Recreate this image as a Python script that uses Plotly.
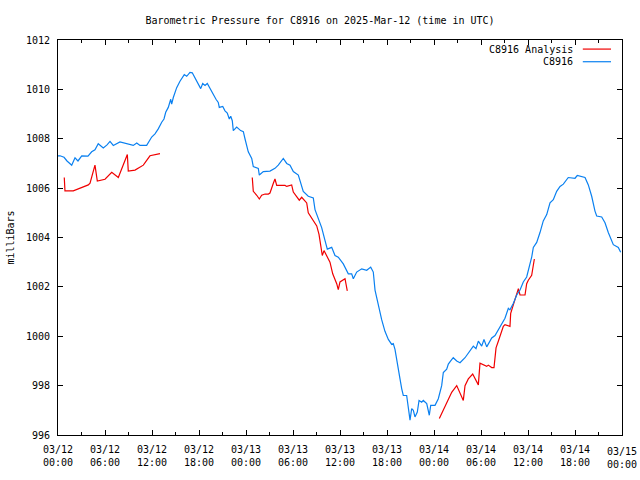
import datetime as dt
import plotly.graph_objects as go

BASE = dt.datetime(2025, 3, 12, 0, 0)

# C8916 observed pressure: hours after 2025-03-12 00:00 UTC, value in mb
obs_hours = [0.00, 0.26, 0.77, 1.15, 1.75, 2.17, 2.55, 3.03, 3.83, 4.30, 4.72, 5.14, 5.78, 6.26, 6.64,
             7.06, 7.91, 8.77, 9.61, 10.05, 10.47, 11.32, 11.96, 12.38, 12.80, 13.24, 13.53, 13.75,
             14.08, 14.39, 14.51, 14.72, 14.94, 15.15, 15.57, 15.79, 16.12, 16.43, 16.85, 17.14,
             17.49, 17.91, 18.22, 18.47, 18.77, 19.06, 19.40, 19.83, 20.17, 20.46, 20.59, 21.03,
             21.32, 21.61, 21.87, 22.05, 22.25, 22.38, 22.81, 23.32, 23.66, 23.87, 24.29, 24.73,
             24.93, 25.57, 25.70, 26.21, 27.06, 27.70, 28.12, 28.76, 29.20, 29.62, 30.04, 30.68,
             31.11, 31.31, 31.95, 32.59, 32.81, 33.23, 33.66, 34.09, 34.38, 34.94, 35.36, 35.78,
             36.42, 37.06, 37.49, 37.70, 38.13, 38.77, 39.41, 39.92, 40.25, 40.47, 40.89, 41.32,
             41.74, 42.17, 42.60, 42.80, 43.02, 43.24, 43.66, 43.88, 44.08, 44.51, 44.72, 44.94,
             45.15, 45.36, 45.57, 45.87, 46.09, 46.43, 46.63, 47.07, 47.40, 47.58, 48.13, 48.55,
             48.98, 49.19, 49.62, 49.83, 50.13, 50.46, 50.90, 51.32, 51.96, 52.38, 52.60, 53.02,
             53.36, 53.66, 54.09, 54.38, 54.73, 55.06, 55.37, 55.79, 56.21, 56.64, 57.06, 57.49,
             57.70, 58.12, 58.56, 58.98, 59.40, 59.83, 60.04, 60.47, 60.68, 61.11, 61.53, 61.95,
             62.39, 62.81, 63.23, 63.66, 64.09, 64.51, 65.14, 66.00, 66.29, 67.28, 67.70, 68.13,
             68.55, 68.77, 69.41, 69.83, 70.25, 70.47, 70.89, 71.53, 71.83]
obs_values = [1007.31, 1007.31, 1007.25, 1007.10, 1006.93, 1007.23, 1007.10, 1007.31, 1007.30, 1007.47,
              1007.55, 1007.80, 1007.63, 1007.75, 1007.89, 1007.73, 1007.87, 1007.80, 1007.73, 1007.83,
              1007.73, 1007.73, 1008.07, 1008.20, 1008.40, 1008.67, 1008.80, 1009.07, 1009.27, 1009.60,
              1009.40, 1009.67, 1009.93, 1010.07, 1010.33, 1010.44, 1010.60, 1010.53, 1010.69, 1010.67,
              1010.47, 1010.20, 1010.03, 1010.24, 1010.16, 1010.24, 1010.03, 1009.80, 1009.60, 1009.47,
              1009.27, 1009.31, 1009.13, 1009.04, 1008.80, 1008.91, 1008.73, 1008.33, 1008.47, 1008.33,
              1008.29, 1008.00, 1007.47, 1007.20, 1006.87, 1006.80, 1006.53, 1006.67, 1006.69, 1006.80,
              1006.93, 1007.20, 1007.00, 1006.93, 1006.67, 1006.53, 1006.13, 1005.87, 1005.67, 1005.60,
              1005.13, 1004.80, 1004.40, 1003.87, 1003.53, 1003.60, 1003.27, 1003.20, 1002.93, 1002.53,
              1002.53, 1002.33, 1002.60, 1002.73, 1002.67, 1002.80, 1002.60, 1001.87, 1001.20, 1000.67,
              1000.20, 999.87, 999.67, 999.70, 999.47, 999.00, 998.27, 997.87, 997.60, 997.60,
              997.07, 996.60, 997.07, 997.00, 996.73, 996.93, 997.40, 997.33, 997.40, 997.27,
              996.80, 997.20, 997.20, 997.47, 998.00, 998.53, 998.67, 998.87, 999.00, 999.13,
              999.00, 998.93, 999.13, 999.33, 999.40, 999.60, 999.50, 999.80, 999.60, 999.87,
              999.57, 999.73, 999.93, 1000.03, 1000.27, 1000.53, 1000.73, 1001.13, 1001.07, 1001.33,
              1001.67, 1001.87, 1002.20, 1002.40, 1002.67, 1003.20, 1003.60, 1003.80, 1004.20, 1004.67,
              1004.93, 1005.40, 1005.53, 1005.87, 1006.07, 1006.16, 1006.43, 1006.40, 1006.51, 1006.43,
              1006.13, 1005.67, 1005.07, 1004.87, 1004.83, 1004.60, 1004.20, 1004.00, 1003.71, 1003.60,
              1003.40]

# C8916 Analysis: three separate runs (None marks a gap)
ana_hours = [0.80, 0.89, 1.95, 2.81, 3.87, 4.09, 4.72, 5.02, 5.58, 6.00, 6.86, 7.70, 8.85, 8.97, 9.83,
             10.89, 11.74, 12.80, 13.02, None,
             24.80, 24.93, 25.37, 25.70, 26.00, 26.43, 26.85, 27.06, 27.49, 27.70, 27.92, 28.98, 29.20,
             29.62, 29.83, 30.04, 30.47, 30.80, 31.11, 31.53, 31.75, 31.95, 32.39, 32.81, 33.03, 33.32,
             33.54, 33.74, 33.96, 34.30, 34.72, 35.07, 35.58, 35.78, 36.00, 36.64, 36.77, 36.93, None,
             48.68, 49.19, 49.70, 50.26, 50.90, 51.32, 51.74, 51.96, 52.38, 52.94, 53.66, 53.87, 54.29,
             54.73, 54.93, 55.37, 55.66, 55.79, 55.92, 56.21, 56.52, 56.85, 57.06, 57.70, 57.79, 58.05,
             58.34, 58.56, 58.77, 58.98, 59.62, 59.83, 60.04, 60.47, 60.68, 60.81]
ana_values = [1006.43, 1005.89, 1005.89, 1006.00, 1006.13, 1006.20, 1006.93, 1006.29, 1006.33, 1006.36,
              1006.64, 1006.43, 1007.36, 1006.69, 1006.73, 1006.93, 1007.31, 1007.40, 1007.40, None,
              1006.43, 1005.87, 1005.71, 1005.56, 1005.71, 1005.76, 1005.76, 1005.80, 1006.20, 1006.37,
              1006.11, 1006.11, 1006.07, 1006.13, 1006.13, 1005.84, 1005.67, 1005.51, 1005.63, 1005.49,
              1005.40, 1005.00, 1004.80, 1004.60, 1004.47, 1004.13, 1003.73, 1003.27, 1003.47, 1003.27,
              1003.00, 1002.53, 1002.13, 1001.89, 1002.20, 1002.33, 1002.13, 1001.84, None,
              996.67, 997.00, 997.40, 997.73, 998.00, 997.73, 997.40, 998.00, 998.27, 998.47, 998.03,
              998.91, 998.83, 998.78, 998.83, 998.73, 998.73, 999.13, 999.53, 999.80, 1000.07, 1000.40,
              1000.47, 1000.40, 1000.93, 1001.20, 1001.53, 1001.71, 1001.93, 1001.67, 1001.67, 1002.13,
              1002.27, 1002.47, 1002.87, 1003.13]

tick_hours = [0, 6, 12, 18, 24, 30, 36, 42, 48, 54, 60, 66, 72]
tick_labels = ["03/12<br>00:00", "03/12<br>06:00", "03/12<br>12:00", "03/12<br>18:00",
               "03/13<br>00:00", "03/13<br>06:00", "03/13<br>12:00", "03/13<br>18:00",
               "03/14<br>00:00", "03/14<br>06:00", "03/14<br>12:00", "03/14<br>18:00",
               "03/15<br>00:00"]

RED = "#f00000"
BLUE = "#0a80f0"
FONT = "DejaVu Sans Mono"


def to_time(hours):
    return [None if h is None else BASE + dt.timedelta(hours=h) for h in hours]


fig = go.Figure()
fig.add_trace(go.Scatter(x=to_time(ana_hours), y=ana_values, mode="lines", name="C8916 Analysis",
                         line=dict(color=RED, width=1.2), connectgaps=False))
fig.add_trace(go.Scatter(x=to_time(obs_hours), y=obs_values, mode="lines", name="C8916",
                         line=dict(color=BLUE, width=1.2)))

fig.update_layout(
    width=640, height=480,
    autosize=False,
    margin=dict(l=58, r=18, t=40, b=35),
    paper_bgcolor="white", plot_bgcolor="white",
    showlegend=False,
    font=dict(family=FONT, size=10, color="black"),
    title=dict(text="Barometric Pressure for C8916 on 2025-Mar-12 (time in UTC)",
               x=0.5, xanchor="center", y=0.958, yanchor="middle",
               font=dict(family=FONT, size=10, color="black")),
)
# all but the last tick label as axis labels; the last one (at the right edge) as an annotation
fig.update_xaxes(
    range=[BASE, BASE + dt.timedelta(hours=72)],
    tickvals=to_time(tick_hours), ticktext=tick_labels[:-1] + [""],
    ticks="inside", ticklen=5, tickcolor="black", tickwidth=1,
    ticklabelstandoff=5,
    minor=dict(ticks="inside", ticklen=3, tickcolor="black", dtick=3 * 3600 * 1000),
    showline=True, linecolor="black", linewidth=1, mirror="allticks",
    showgrid=False, zeroline=False,
    tickfont=dict(family=FONT, size=10, color="black"),
)
fig.add_annotation(text=tick_labels[-1], x=to_time(tick_hours)[-1], xref="x", yref="paper", y=0,
                   yanchor="top", xanchor="center", yshift=-9, showarrow=False,
                   font=dict(family=FONT, size=10, color="black"))
fig.update_yaxes(
    range=[996, 1012], tickvals=list(range(996, 1013, 2)),
    ticks="inside", ticklen=5, tickcolor="black", tickwidth=1,
    ticklabelstandoff=5,
    showline=True, linecolor="black", linewidth=1, mirror="allticks",
    showgrid=False, zeroline=False,
    tickfont=dict(family=FONT, size=10, color="black"),
)

# y-axis caption
fig.add_annotation(text="milliBars", xref="paper", yref="paper", x=-0.085, y=0.5,
                   textangle=-90, showarrow=False, xanchor="center", yanchor="middle",
                   font=dict(family=FONT, size=10, color="black"))

# gnuplot-style key (text right-aligned, sample line on the right)
legend_rows = [("C8916 Analysis", RED, 0.977), ("C8916", BLUE, 0.945)]
for label, color, ypos in legend_rows:
    fig.add_annotation(text=label, xref="paper", yref="paper", x=0.917, y=ypos,
                       xanchor="right", yanchor="middle", showarrow=False,
                       font=dict(family=FONT, size=10, color="black"))
    fig.add_shape(type="line", xref="paper", yref="paper", x0=0.9305, x1=0.9805, y0=ypos, y1=ypos,
                  line=dict(color=color, width=1.2))

fig.write_html(
    "out.html",
    config={"responsive": False, "displayModeBar": False},
    post_script=("document.documentElement.style.overflow='hidden';"
                 "document.body.style.margin='0px';document.body.style.overflow='hidden';"),
)
